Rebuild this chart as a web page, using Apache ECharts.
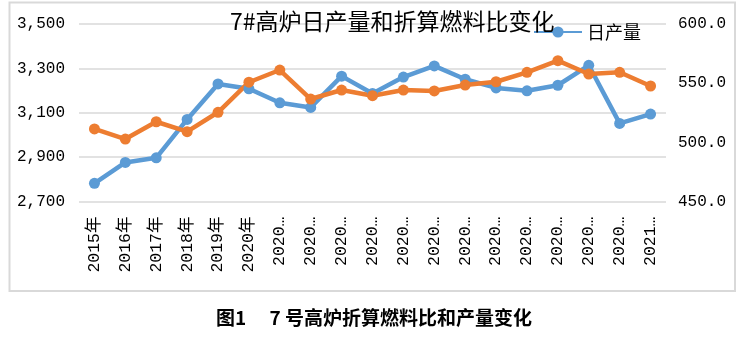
<!DOCTYPE html>
<html>
<head>
<meta charset="utf-8">
<script src="https://cdn.jsdelivr.net/npm/echarts@6/dist/echarts.min.js"></script>
<style>
  html, body { margin: 0; padding: 0; background: #fff; }
  #chart { width: 748px; height: 337px; }
</style>
</head>
<body>
<div id="chart"></div>
<script>
// Categories: yearly averages 2015–2020, then monthly values for 2020 and January 2021
const categories = [
  '2015年', '2016年', '2017年', '2018年', '2019年', '2020年',
  '2020年1月', '2020年2月', '2020年3月', '2020年4月', '2020年5月', '2020年6月',
  '2020年7月', '2020年8月', '2020年9月', '2020年10月', '2020年11月', '2020年12月',
  '2021年1月'
];

// Daily output, t/d (left axis)
const dailyOutput = [
  2782, 2876, 2897, 3070, 3230, 3208,
  3145, 3124, 3265, 3187, 3261, 3311,
  3251, 3212, 3199, 3224, 3314, 3052,
  3094
];

// Converted fuel ratio, kg/t (right axis)
const fuelRatio = [
  511.3, 502.8, 517.4, 509.0, 525.4, 550.8,
  561.1, 536.6, 544.2, 539.4, 544.2, 543.4,
  548.4, 551.2, 559.2, 569.0, 557.7, 559.2,
  547.6
];

const leftTicks = { min: 2700, max: 3500, interval: 200 };
const rightTicks = { min: 450, max: 600, interval: 50 };

const titleText = '7#高炉日产量和折算燃料比变化';
const captionText = '图1　 7 号高炉折算燃料比和产量变化';

const monoFont = '"Liberation Mono", "Noto Sans CJK SC", monospace';
const cjkFont = '"Noto Sans CJK SC", sans-serif';

const chart = echarts.init(document.getElementById('chart'), null, { renderer: 'canvas' });

chart.setOption({
  animation: false,
  backgroundColor: '#fff',
  title: [
    {
      text: titleText,
      left: 230,
      top: 10,
      padding: 0,
      textStyle: { fontFamily: cjkFont, fontSize: 23, fontWeight: 'normal', color: '#000' }
    },
    {
      text: captionText,
      left: 'center',
      top: 308,
      padding: 0,
      textStyle: { fontFamily: cjkFont, fontSize: 19, fontWeight: 'bold', color: '#000' }
    }
  ],
  legend: {
    data: ['日产量'],
    left: 533,
    top: 23,
    padding: 0,
    itemWidth: 48,
    itemHeight: 14,
    itemGap: 8,
    textStyle: { fontFamily: cjkFont, fontSize: 18, color: '#000' }
  },
  graphic: [
    {
      type: 'rect',
      silent: true,
      shape: { x: 9.5, y: 2.5, width: 725.5, height: 288.5 },
      style: { fill: 'none', stroke: '#d9d9d9', lineWidth: 2 }
    }
  ],
  grid: { left: 79, right: 82, top: 24, bottom: 135.5, containLabel: false },
  xAxis: {
    type: 'category',
    data: categories,
    boundaryGap: true,
    axisLine: { show: false },
    axisTick: { show: false },
    axisLabel: {
      interval: 0,
      rotate: 90,
      margin: 15,
      fontFamily: monoFont,
      fontSize: 16.5,
      color: '#000',
      width: 58,
      overflow: 'truncate',
      ellipsis: '…'
    }
  },
  yAxis: [
    {
      type: 'value',
      position: 'left',
      min: leftTicks.min,
      max: leftTicks.max,
      interval: leftTicks.interval,
      axisLine: { show: false },
      axisTick: { show: false },
      splitLine: { show: true, lineStyle: { color: '#d9d9d9', width: 1.6 } },
      axisLabel: {
        margin: 14,
        fontFamily: monoFont,
        fontSize: 16,
        color: '#000',
        formatter: v => v.toLocaleString('en-US')
      }
    },
    {
      type: 'value',
      position: 'right',
      min: rightTicks.min,
      max: rightTicks.max,
      interval: rightTicks.interval,
      axisLine: { show: false },
      axisTick: { show: false },
      splitLine: { show: false },
      axisLabel: {
        margin: 12,
        fontFamily: monoFont,
        fontSize: 16,
        color: '#000',
        formatter: v => v.toFixed(1)
      }
    }
  ],
  series: [
    {
      name: '日产量',
      type: 'line',
      yAxisIndex: 0,
      data: dailyOutput,
      symbol: 'circle',
      symbolSize: 11,
      lineStyle: { color: '#5B9BD5', width: 4.5 },
      itemStyle: { color: '#5B9BD5' }
    },
    {
      name: '折算燃料比',
      type: 'line',
      yAxisIndex: 1,
      data: fuelRatio,
      symbol: 'circle',
      symbolSize: 11,
      lineStyle: { color: '#ED7D31', width: 4.5 },
      itemStyle: { color: '#ED7D31' }
    }
  ]
});
</script>
</body>
</html>
